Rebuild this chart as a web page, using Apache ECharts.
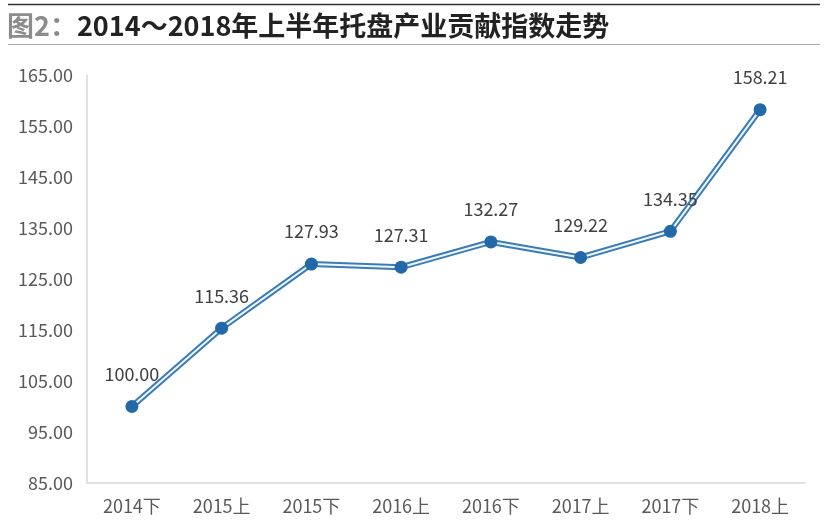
<!DOCTYPE html>
<html><head><meta charset="utf-8">
<script src="https://cdn.jsdelivr.net/npm/echarts@6/dist/echarts.min.js"></script>
<style>html,body{margin:0;padding:0;background:#fff}#c{width:826px;height:525px}</style>
</head><body><div id="c"></div>
<script>
const categories = ['2014下','2015上','2015下','2016上','2016下','2017上','2017下','2018上'];
const values = [100.00, 115.36, 127.93, 127.31, 132.27, 129.22, 134.35, 158.21];
const yMin = 85, yMax = 165, yStep = 10;

const chart = echarts.init(document.getElementById('c'));
const font = '"Noto Sans CJK SC", "Noto Sans", sans-serif';
chart.setOption({
  animation: false,
  backgroundColor: '#fff',
  title: {
    text: '{a|图2：}{b|2014～2018年上半年托盘产业贡献指数走势}',
    left: 2, top: 7,
    textStyle: {
      rich: {
        a: {fontFamily: font, fontSize: 27, fontWeight: 'bold', color: '#8c8c8c'},
        b: {fontFamily: font, fontSize: 27, fontWeight: 'bold', color: '#222'}
      }
    }
  },
  graphic: [
    {type: 'line', shape: {x1: 8, y1: 4.5, x2: 820, y2: 4.5}, style: {stroke: '#333', lineWidth: 1.5}},
    {type: 'line', shape: {x1: 8, y1: 44.5, x2: 820, y2: 44.5}, style: {stroke: '#aaa', lineWidth: 1}}
  ],
  grid: {left: 87, right: 21, top: 75, bottom: 42, containLabel: false},
  xAxis: {
    type: 'category', data: categories, boundaryGap: true,
    axisLine: {lineStyle: {color: '#d9d9d9', width: 1.5}},
    axisTick: {show: false},
    axisLabel: {color: '#595959', fontSize: 18, fontFamily: font, margin: 14}
  },
  yAxis: {
    type: 'value', min: yMin, max: yMax, interval: yStep,
    axisLine: {show: true, lineStyle: {color: '#d9d9d9', width: 1.5}},
    axisTick: {show: false},
    splitLine: {show: false},
    axisLabel: {color: '#595959', fontSize: 18, fontFamily: font, margin: 14,
      formatter: v => v.toFixed(2)}
  },
  series: [
    {
      type: 'line', data: values, z: 2,
      lineStyle: {color: '#3a7cb8', width: 6},
      symbol: 'none', silent: true
    },
    {
      type: 'line', data: values, z: 3,
      lineStyle: {color: '#eef5fc', width: 2},
      symbol: 'circle', symbolSize: 13,
      itemStyle: {color: '#2369a8'},
      label: {show: true, position: 'top', distance: 17, color: '#404040',
        fontSize: 18, fontFamily: font, formatter: p => p.value.toFixed(2)}
    }
  ]
});
</script></body></html>
